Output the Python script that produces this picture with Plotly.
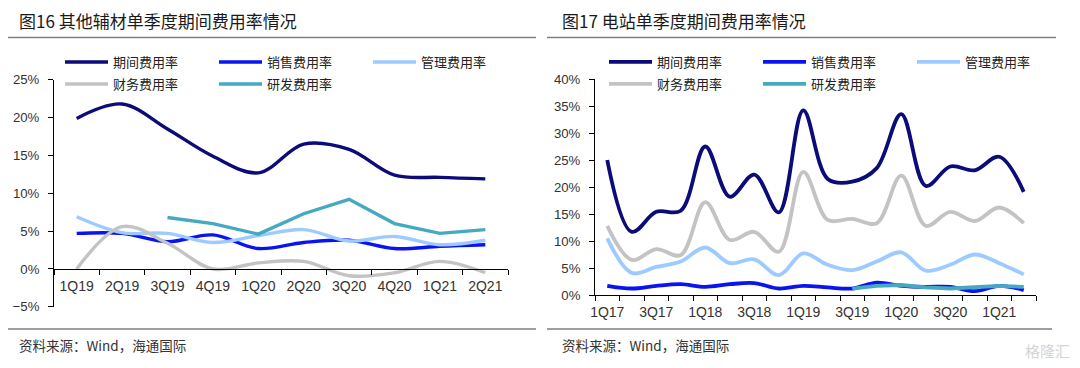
import plotly.graph_objects as go

# ---------------- data ----------------
quarters_l = ["1Q19", "2Q19", "3Q19", "4Q19", "1Q20", "2Q20", "3Q20", "4Q20", "1Q21", "2Q21"]
period_l = [19.9, 21.8, 18.5, 14.9, 12.7, 16.5, 15.8, 12.4, 12.1, 11.9]
sales_l = [4.7, 4.7, 3.6, 4.5, 2.7, 3.5, 3.8, 2.7, 3.0, 3.2]
admin_l = [6.9, 4.8, 4.7, 3.5, 4.4, 5.2, 3.7, 4.3, 3.2, 3.8]
finance_l = [0.0, 5.6, 3.4, 0.0, 0.8, 1.0, -0.9, -0.5, 1.0, -0.5]
rd_l = [None, None, 6.8, 6.0, 4.6, 7.3, 9.2, 6.0, 4.7, 5.2]

quarters_r = ["1Q17", "2Q17", "3Q17", "4Q17", "1Q18", "2Q18", "3Q18", "4Q18",
              "1Q19", "2Q19", "3Q19", "4Q19", "1Q20", "2Q20", "3Q20", "4Q20",
              "1Q21", "2Q21"]
period_r = [25.0, 11.7, 15.4, 15.6, 27.5, 18.2, 22.3, 15.3, 34.2, 21.5, 21.0, 23.5,
            33.5, 20.2, 23.8, 23.1, 25.6, 19.1]
sales_r = [1.7, 1.2, 1.7, 2.0, 1.5, 2.0, 2.2, 1.2, 1.7, 1.4, 1.2, 2.3, 1.7, 1.5,
           1.5, 0.7, 1.7, 0.9]
admin_r = [10.5, 4.1, 5.2, 6.2, 8.8, 5.9, 6.6, 3.7, 7.7, 5.6, 4.6, 6.2, 7.9, 4.5,
           5.6, 7.5, 5.9, 3.8]
finance_r = [12.8, 6.5, 8.5, 7.4, 17.2, 10.2, 11.7, 8.0, 22.8, 13.9, 14.1, 13.3,
             22.1, 12.8, 15.4, 13.7, 16.2, 13.3]
rd_r = [None] * 10 + [1.2, 1.7, 1.85, 1.4, 1.2, 1.4, 1.7, 1.5]

series_names = ["期间费用率", "销售费用率", "管理费用率", "财务费用率", "研发费用率"]
colors = ["#0B0B7A", "#0A14F0", "#9DCBFF", "#C3C3C3", "#45A9C2"]
smooth = [True, True, True, True, False]

title_l = "图16 其他辅材单季度期间费用率情况"
title_r = "图17 电站单季度期间费用率情况"
source_text = "资料来源：Wind，海通国际"

# ---------------- layout helpers ----------------
# the page body has an 8px default margin, so the figure is drawn 8px in
OFF = 8
W, H = 1080 - OFF, 368 - OFF
CJK = "Noto Sans CJK SC"
LAT = "Liberation Sans, Arial"


def px_x(p):
    return (p - OFF) / W


def px_y(p):
    return 1 - (p - OFF) / H


fig = go.Figure()

left_data = [period_l, sales_l, admin_l, finance_l, rd_l]
right_data = [period_r, sales_r, admin_r, finance_r, rd_r]
xl = list(range(len(quarters_l)))
xr = list(range(len(quarters_r)))

for i, (name, col) in enumerate(zip(series_names, colors)):
    leg = "legend" if i < 3 else "legend3"
    fig.add_trace(go.Scatter(
        x=xl, y=left_data[i], name=name, mode="lines",
        line=dict(color=col, width=3.4, shape="spline" if smooth[i] else "linear",
                  smoothing=1.0),
        xaxis="x", yaxis="y", legend=leg, connectgaps=False,
    ))
for i, (name, col) in enumerate(zip(series_names, colors)):
    leg = "legend2" if i < 3 else "legend4"
    fig.add_trace(go.Scatter(
        x=xr, y=right_data[i], name=name, mode="lines",
        line=dict(color=col, width=3.8, shape="spline" if smooth[i] else "linear",
                  smoothing=1.0),
        xaxis="x2", yaxis="y2", legend=leg, connectgaps=False,
    ))

# plot geometry in pixels (window coordinates)
L_x0, L_x1 = 54, 508
L_ytop, L_ybot = 79.8, 306.8   # 25% .. -5%
L_zero = 269.0
R_x0, R_x1 = 595, 1036
R_ytop, R_ybot = 79.0, 295.0   # 40% .. 0%

xtickfont = dict(family=LAT, size=14, color="#333333")
ytickfont = dict(family=LAT, size=13.2, color="#333333")

fig.update_layout(
    width=W, height=H,
    margin=dict(l=0, r=0, t=0, b=0, autoexpand=False),
    paper_bgcolor="white", plot_bgcolor="white",
    showlegend=True,
    xaxis=dict(
        domain=[px_x(L_x0), px_x(L_x1)],
        range=[-0.5, len(quarters_l) - 0.5],
        tickmode="array", tickvals=xl, ticktext=quarters_l,
        ticks="", showgrid=False, zeroline=False,
        showline=True, linecolor="#000000", linewidth=1,
        anchor="free", position=px_y(L_zero),
        tickfont=xtickfont, ticklabelstandoff=4,
        minor=dict(tickmode="array",
                   tickvals=[v - 0.5 for v in range(len(quarters_l) + 1)],
                   ticks="outside", ticklen=5, tickcolor="#000000", tickwidth=1,
                   showgrid=False),
        fixedrange=True,
    ),
    yaxis=dict(
        domain=[px_y(L_ybot), px_y(L_ytop)],
        range=[-5, 25], tickmode="linear", tick0=-5, dtick=5, ticksuffix="%",
        showgrid=False, zeroline=False,
        showline=True, linecolor="#000000", linewidth=1,
        ticks="outside", ticklen=5, tickcolor="#000000",
        tickfont=ytickfont, ticklabelstandoff=6, anchor="x",
        fixedrange=True,
    ),
    xaxis2=dict(
        domain=[px_x(R_x0), px_x(R_x1)],
        range=[-0.5, len(quarters_r) - 0.5],
        tickmode="array", tickvals=xr[::2], ticktext=quarters_r[::2],
        ticks="", showgrid=False, zeroline=False,
        showline=True, linecolor="#000000", linewidth=1,
        anchor="y2",
        tickfont=xtickfont, ticklabelstandoff=4,
        minor=dict(tickmode="array",
                   tickvals=[v - 0.5 for v in range(len(quarters_r) + 1)],
                   ticks="outside", ticklen=5, tickcolor="#000000", tickwidth=1,
                   showgrid=False),
        fixedrange=True,
    ),
    yaxis2=dict(
        domain=[px_y(R_ybot), px_y(R_ytop)],
        range=[0, 40], tickmode="linear", tick0=0, dtick=5, ticksuffix="%",
        showgrid=False, zeroline=False,
        showline=True, linecolor="#000000", linewidth=1,
        ticks="outside", ticklen=5, tickcolor="#000000",
        tickfont=ytickfont, ticklabelstandoff=6, anchor="x2",
        fixedrange=True,
    ),
)

legend_common = dict(
    orientation="h", xref="paper", yref="paper",
    xanchor="left", yanchor="middle",
    entrywidth=96, entrywidthmode="pixels", itemwidth=43,
    font=dict(family=CJK, size=13, color="#222222"),
    bgcolor="white", borderwidth=0, tracegroupgap=0,
)
row1_y, row2_y = 62, 84
fig.update_layout(
    legend=dict(legend_common, x=px_x(L_x0 + 6), y=px_y(row1_y)),
    legend3=dict(legend_common, x=px_x(L_x0 + 6), y=px_y(row2_y)),
    legend2=dict(legend_common, x=px_x(R_x0 + 9), y=px_y(row1_y)),
    legend4=dict(legend_common, x=px_x(R_x0 + 9), y=px_y(row2_y)),
)

# ---------------- frame lines ----------------
line_col = "#7F7F7F"
shapes = []
for (x0, x1, y, w) in [
    (4, 536, 3, 1.5), (4, 536, 37.5, 1.5), (4, 536, 329, 1.5),
    (547, 1076, 3, 1.5), (547, 1056, 37.5, 1.5), (547, 1052, 329, 1.5),
]:
    shapes.append(dict(type="line", xref="paper", yref="paper",
                       x0=px_x(x0), x1=px_x(x1), y0=px_y(y), y1=px_y(y),
                       line=dict(color=line_col, width=w)))
fig.update_layout(shapes=shapes)

# ---------------- texts ----------------
ann = []
ann.append(dict(text=title_l, x=px_x(17), y=px_y(21), xref="paper", yref="paper",
                xanchor="left", yanchor="middle", showarrow=False,
                font=dict(family=CJK, size=17, color="#1A1A1A")))
ann.append(dict(text=title_r, x=px_x(560), y=px_y(21), xref="paper", yref="paper",
                xanchor="left", yanchor="middle", showarrow=False,
                font=dict(family=CJK, size=17, color="#1A1A1A")))
for xx in (17, 560):
    ann.append(dict(text=source_text, x=px_x(xx), y=px_y(345), xref="paper",
                    yref="paper", xanchor="left", yanchor="middle", showarrow=False,
                    font=dict(family=CJK, size=13.5, color="#333333")))
ann.append(dict(text="格隆汇", x=px_x(1072), y=px_y(350), xref="paper", yref="paper",
                xanchor="right", yanchor="middle", showarrow=False,
                font=dict(family=CJK, size=15, color="#D4D4D4")))
fig.update_layout(annotations=ann)

fig.write_html("out.html")
